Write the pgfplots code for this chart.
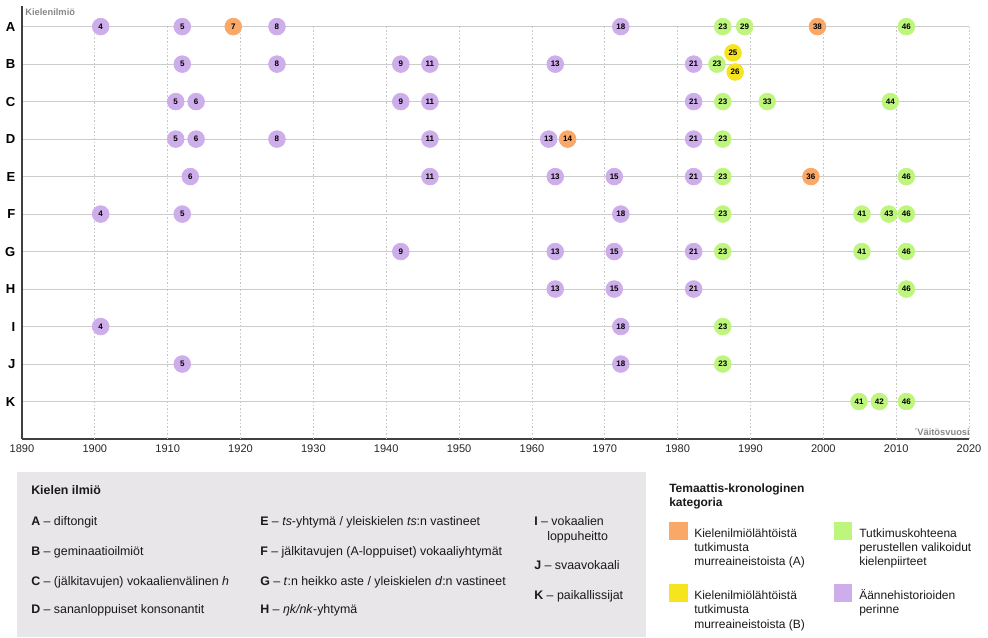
\documentclass[border=0pt]{standalone}
\usepackage{fontspec}
\setmainfont{Liberation Sans}
\usepackage{pgfplots}
\pgfplotsset{compat=1.18}
\usepackage{pgfplotstable}

\definecolor{cPurple}{RGB}{205,173,234}
\definecolor{cGreen}{RGB}{190,245,125}
\definecolor{cOrange}{RGB}{250,168,104}
\definecolor{cYellow}{RGB}{246,228,30}
\definecolor{legbg}{RGB}{232,230,232}
\definecolor{axgray}{RGB}{136,136,136}

% rows: A=10 ... K=0
\pgfplotstableread{
x y n
1900.8 10 4
1912.0 10 5
1925.0 10 8
1972.2 10 18
1912.0 9 5
1925.0 9 8
1942.0 9 9
1946.0 9 11
1963.2 9 13
1982.2 9 21
1911.1 8 5
1913.9 8 6
1942.0 8 9
1946.0 8 11
1982.2 8 21
1911.1 7 5
1913.9 7 6
1925.0 7 8
1946.0 7 11
1962.3 7 13
1982.2 7 21
1913.1 6 6
1946.0 6 11
1963.2 6 13
1971.3 6 15
1982.2 6 21
1900.8 5 4
1912.0 5 5
1972.2 5 18
1942.0 4 9
1963.2 4 13
1971.3 4 15
1982.2 4 21
1963.2 3 13
1971.3 3 15
1982.2 3 21
1900.8 2 4
1972.2 2 18
1912.0 1 5
1972.2 1 18
}\purpletab

\pgfplotstableread{
x y n
1986.2 10 23
1989.2 10 29
2011.4 10 46
1985.4 9 23
1986.2 8 23
1992.3 8 33
2009.2 8 44
1986.2 7 23
1986.2 6 23
2011.4 6 46
1986.2 5 23
2005.3 5 41
2009.0 5 43
2011.4 5 46
1986.2 4 23
2005.3 4 41
2011.4 4 46
2011.4 3 46
1986.2 2 23
1986.2 1 23
2004.9 0 41
2007.7 0 42
2011.4 0 46
}\greentab

\pgfplotstableread{
x y n
1919.0 10 7
1999.2 10 38
1964.9 7 14
1998.3 6 36
}\orangetab

\pgfplotstableread{
x y n
1987.6 9.30 25
1987.9 8.79 26
}\yellowtab

\pgfplotsset{
  bub/.style={only marks, color=#1, mark=*, mark size=6.3pt,
    mark options={draw=#1, fill=#1, line width=0.5pt},
    nodes near coords, point meta=explicit symbolic,
    every node near coord/.append style={anchor=center, inner sep=0pt,
      font=\bfseries\fontsize{6}{6}\selectfont, text=black}},
}

\begin{document}
\begin{tikzpicture}
\path[use as bounding box] (0,0) rectangle (741pt,-477.75pt);

\begin{axis}[
  at={(16.5pt,-329.25pt)}, anchor=south west,
  scale only axis, width=710.25pt, height=324.75pt,
  xmin=1890, xmax=2020, ymin=-1, ymax=10.55,
  clip=false,
  axis lines=left,
  axis line style={-, draw=black!75, line width=1.1pt},
  major tick length=0pt,
  xtick={1890,1900,...,2020},
  ytick={0,...,10},
  yticklabels={K,J,I,H,G,F,E,D,C,B,A},
  ymajorgrids,
  grid style={draw=black!20, line width=0.8pt},
  /pgf/number format/1000 sep={},
  /pgf/number format/assume math mode=true,
  xticklabel style={font=\fontsize{8.3}{10}\selectfont, text=black!85, yshift=-1pt},
  yticklabel style={font=\bfseries\fontsize{9.8}{10}\selectfont, xshift=-1.5pt},
]
\pgfplotsinvokeforeach{1900,1910,...,2020}{
  \draw[black!22, line width=0.6pt, dash pattern=on 1.2pt off 1.5pt]
    (axis cs:#1,10) -- (axis cs:#1,-1);
}
\addplot[bub=cPurple] table[x=x,y=y,meta=n] {\purpletab};
\addplot[bub=cGreen] table[x=x,y=y,meta=n] {\greentab};
\addplot[bub=cOrange] table[x=x,y=y,meta=n] {\orangetab};
\addplot[bub=cYellow] table[x=x,y=y,meta=n] {\yellowtab};
\end{axis}

\begin{scope}[x=0.75pt, y=-0.75pt,
  lt/.style={anchor=base west, inner sep=0pt, font=\fontsize{9.3}{11}\selectfont, text=black!90},
  rt/.style={anchor=base west, inner sep=0pt, font=\fontsize{9}{11}\selectfont, text=black!90}]
  \node[anchor=west, inner sep=0pt, text=axgray, font=\bfseries\fontsize{7}{8}\selectfont] at (25,12) {Kielenilmiö};
  \node[anchor=east, inner sep=0pt, text=axgray, font=\bfseries\fontsize{7}{8}\selectfont] at (970,432) {´Väitösvuosi};

  % left legend box
  \fill[legbg] (17,472) rectangle (646,637);
  \node[lt, font=\bfseries\fontsize{9.3}{11}\selectfont] at (31,494) {Kielen ilmiö};
  \node[lt] at (31,525) {\textbf{A} – diftongit};
  \node[lt] at (31,555) {\textbf{B} – geminaatioilmiöt};
  \node[lt] at (31,585) {\textbf{C} – (jälkitavujen) vokaalienvälinen \textit{h}};
  \node[lt] at (31,613) {\textbf{D} – sananloppuiset konsonantit};
  \node[lt] at (260,525) {\textbf{E} – \textit{ts}-yhtymä / yleiskielen \textit{ts}:n vastineet};
  \node[lt] at (260,555) {\textbf{F} – jälkitavujen (A-loppuiset) vokaaliyhtymät};
  \node[lt] at (260,585) {\textbf{G} – \textit{t}:n heikko aste / yleiskielen \textit{d}:n vastineet};
  \node[lt] at (260,613) {\textbf{H} – \textit{ŋk/nk}-yhtymä};
  \node[lt] at (534,525) {\textbf{I} – vokaalien};
  \node[lt] at (547,540) {loppuheitto};
  \node[lt] at (534,569) {\textbf{J} – svaavokaali};
  \node[lt] at (534,599) {\textbf{K} – paikallissijat};

  % right legend
  \node[rt, font=\bfseries\fontsize{9}{11}\selectfont] at (669,492) {Temaattis-kronologinen};
  \node[rt, font=\bfseries\fontsize{9}{11}\selectfont] at (669,506) {kategoria};
  \fill[cOrange] (669,522) rectangle (688,540);
  \node[rt] at (694,537) {Kielenilmiölähtöistä};
  \node[rt] at (694,551) {tutkimusta};
  \node[rt] at (694,565) {murreaineistoista (A)};
  \fill[cYellow] (669,584) rectangle (688,602);
  \node[rt] at (694,599) {Kielenilmiölähtöistä};
  \node[rt] at (694,613) {tutkimusta};
  \node[rt] at (694,628) {murreaineistoista (B)};
  \fill[cGreen] (834,522) rectangle (852,540);
  \node[rt] at (859,537) {Tutkimuskohteena};
  \node[rt] at (859,551) {perustellen valikoidut};
  \node[rt] at (859,565) {kielenpiirteet};
  \fill[cPurple] (834,584) rectangle (852,602);
  \node[rt] at (859,599) {Äännehistorioiden};
  \node[rt] at (859,613) {perinne};
\end{scope}
\end{tikzpicture}
\end{document}
